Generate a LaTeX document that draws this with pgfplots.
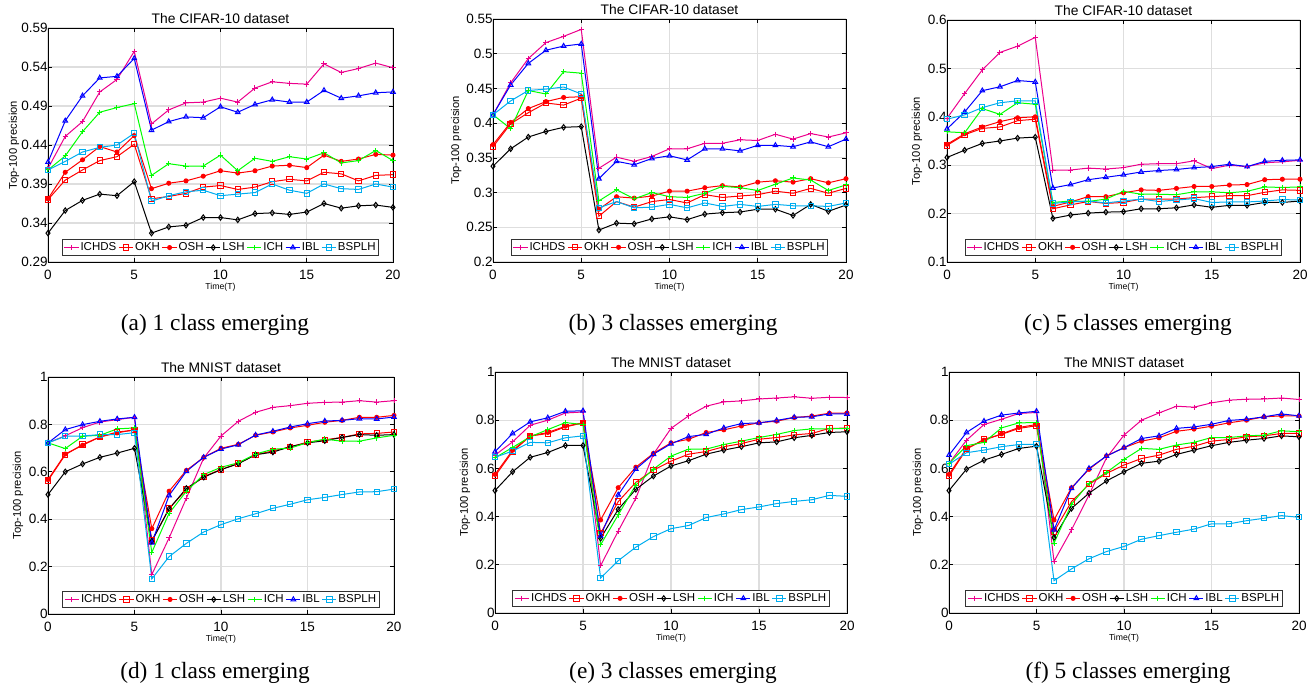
\documentclass[border=0pt]{standalone}
\usepackage{fontspec}
\setmainfont{Liberation Sans}
\newfontfamily\capfont{Liberation Serif}
\usepackage{pgfplots}
\usepackage{pgfplotstable}
\pgfplotsset{compat=1.18}

% columns: t ICHDS OKH OSH LSH ICH IBL BSPLH
\pgfplotstableread{
t ICHDS OKH OSH LSH ICH IBL BSPLH
0 0.410 0.370 0.371 0.327 0.408 0.418 0.408
1 0.451 0.395 0.405 0.356 0.426 0.471 0.419
2 0.470 0.408 0.421 0.369 0.457 0.503 0.431
3 0.508 0.420 0.438 0.377 0.482 0.526 0.437
4 0.524 0.425 0.431 0.375 0.488 0.528 0.440
5 0.560 0.441 0.452 0.393 0.493 0.551 0.455
6 0.467 0.371 0.384 0.327 0.401 0.459 0.368
7 0.485 0.374 0.391 0.335 0.416 0.470 0.375
8 0.494 0.378 0.394 0.337 0.413 0.476 0.380
9 0.495 0.386 0.400 0.347 0.413 0.475 0.382
10 0.500 0.388 0.407 0.347 0.427 0.489 0.375
11 0.495 0.383 0.404 0.344 0.407 0.482 0.377
12 0.513 0.386 0.407 0.352 0.423 0.492 0.379
13 0.521 0.393 0.413 0.353 0.419 0.498 0.390
14 0.519 0.396 0.414 0.351 0.425 0.495 0.382
15 0.518 0.394 0.411 0.354 0.422 0.495 0.378
16 0.544 0.405 0.427 0.365 0.430 0.510 0.390
17 0.533 0.403 0.419 0.359 0.417 0.500 0.384
18 0.538 0.394 0.422 0.362 0.420 0.503 0.383
19 0.545 0.401 0.428 0.363 0.433 0.507 0.390
20 0.539 0.402 0.427 0.360 0.420 0.508 0.386
}\dataA

\pgfplotstableread{
t ICHDS OKH OSH LSH ICH IBL BSPLH
0 0.412 0.366 0.369 0.338 0.412 0.412 0.412
1 0.458 0.399 0.401 0.363 0.392 0.455 0.432
2 0.493 0.415 0.421 0.380 0.447 0.486 0.447
3 0.516 0.429 0.431 0.388 0.442 0.505 0.449
4 0.525 0.426 0.437 0.394 0.474 0.511 0.452
5 0.535 0.436 0.438 0.395 0.472 0.514 0.442
6 0.335 0.266 0.276 0.246 0.288 0.320 0.278
7 0.351 0.287 0.294 0.256 0.304 0.345 0.287
8 0.345 0.279 0.292 0.255 0.291 0.340 0.278
9 0.352 0.287 0.295 0.262 0.300 0.349 0.279
10 0.363 0.290 0.302 0.265 0.294 0.353 0.283
11 0.363 0.285 0.302 0.261 0.293 0.347 0.278
12 0.371 0.297 0.307 0.269 0.299 0.363 0.285
13 0.371 0.293 0.310 0.271 0.309 0.363 0.280
14 0.376 0.295 0.308 0.272 0.307 0.360 0.283
15 0.375 0.297 0.315 0.276 0.303 0.368 0.280
16 0.384 0.302 0.317 0.276 0.312 0.368 0.283
17 0.377 0.299 0.315 0.267 0.321 0.366 0.281
18 0.385 0.306 0.320 0.283 0.318 0.373 0.281
19 0.380 0.299 0.314 0.273 0.303 0.366 0.280
20 0.386 0.306 0.320 0.282 0.311 0.377 0.285
}\dataB

\pgfplotstableread{
t ICHDS OKH OSH LSH ICH IBL BSPLH
0 0.397 0.341 0.343 0.316 0.369 0.375 0.395
1 0.448 0.363 0.365 0.331 0.367 0.410 0.404
2 0.497 0.376 0.379 0.345 0.417 0.454 0.419
3 0.533 0.379 0.390 0.350 0.405 0.462 0.429
4 0.546 0.392 0.398 0.356 0.429 0.475 0.433
5 0.564 0.395 0.400 0.358 0.426 0.472 0.433
6 0.290 0.210 0.215 0.190 0.223 0.253 0.221
7 0.290 0.218 0.224 0.197 0.226 0.260 0.224
8 0.294 0.225 0.235 0.201 0.225 0.270 0.226
9 0.292 0.221 0.235 0.203 0.230 0.275 0.222
10 0.295 0.223 0.243 0.204 0.246 0.280 0.226
11 0.302 0.230 0.249 0.210 0.240 0.286 0.230
12 0.303 0.230 0.248 0.210 0.240 0.289 0.225
13 0.303 0.230 0.252 0.212 0.239 0.291 0.228
14 0.309 0.233 0.256 0.218 0.245 0.295 0.231
15 0.293 0.235 0.256 0.213 0.245 0.297 0.223
16 0.300 0.237 0.259 0.217 0.243 0.302 0.224
17 0.297 0.237 0.260 0.217 0.246 0.297 0.224
18 0.305 0.244 0.270 0.223 0.255 0.308 0.226
19 0.307 0.249 0.271 0.223 0.254 0.310 0.229
20 0.310 0.248 0.271 0.226 0.255 0.311 0.228
}\dataC

\pgfplotstableread{
t ICHDS OKH OSH LSH ICH IBL BSPLH
0 0.722 0.563 0.567 0.504 0.722 0.722 0.722
1 0.752 0.672 0.675 0.600 0.698 0.778 0.750
2 0.786 0.715 0.712 0.633 0.750 0.799 0.751
3 0.810 0.747 0.747 0.661 0.754 0.813 0.757
4 0.820 0.768 0.764 0.679 0.781 0.823 0.757
5 0.830 0.775 0.778 0.699 0.785 0.830 0.765
6 0.166 0.310 0.360 0.307 0.260 0.300 0.148
7 0.321 0.445 0.518 0.444 0.425 0.500 0.242
8 0.489 0.525 0.606 0.530 0.518 0.602 0.298
9 0.658 0.580 0.661 0.577 0.588 0.661 0.346
10 0.751 0.610 0.699 0.609 0.619 0.696 0.377
11 0.813 0.635 0.716 0.634 0.638 0.714 0.402
12 0.851 0.672 0.754 0.672 0.675 0.755 0.423
13 0.872 0.688 0.768 0.683 0.695 0.771 0.446
14 0.879 0.705 0.785 0.706 0.700 0.789 0.463
15 0.889 0.725 0.796 0.722 0.723 0.803 0.482
16 0.893 0.735 0.809 0.731 0.738 0.814 0.492
17 0.894 0.745 0.817 0.745 0.729 0.817 0.504
18 0.900 0.760 0.830 0.757 0.729 0.824 0.515
19 0.894 0.762 0.830 0.754 0.743 0.823 0.516
20 0.900 0.768 0.838 0.757 0.754 0.831 0.527
}\dataD

\pgfplotstableread{
t ICHDS OKH OSH LSH ICH IBL BSPLH
0 0.655 0.568 0.575 0.508 0.644 0.669 0.646
1 0.710 0.670 0.675 0.586 0.687 0.745 0.672
2 0.779 0.734 0.735 0.646 0.731 0.793 0.708
3 0.800 0.745 0.749 0.666 0.761 0.810 0.706
4 0.830 0.772 0.775 0.695 0.790 0.837 0.727
5 0.834 0.789 0.789 0.695 0.782 0.839 0.735
6 0.196 0.331 0.386 0.310 0.283 0.320 0.145
7 0.340 0.462 0.520 0.430 0.407 0.490 0.217
8 0.476 0.542 0.605 0.513 0.531 0.597 0.273
9 0.659 0.593 0.662 0.568 0.597 0.659 0.317
10 0.766 0.630 0.706 0.610 0.651 0.702 0.350
11 0.818 0.659 0.721 0.632 0.680 0.732 0.363
12 0.858 0.670 0.749 0.659 0.680 0.741 0.396
13 0.876 0.690 0.760 0.676 0.699 0.768 0.411
14 0.880 0.703 0.776 0.690 0.713 0.786 0.429
15 0.888 0.721 0.789 0.706 0.728 0.789 0.440
16 0.892 0.728 0.796 0.710 0.741 0.799 0.454
17 0.897 0.739 0.811 0.727 0.757 0.812 0.463
18 0.891 0.745 0.817 0.737 0.764 0.814 0.470
19 0.895 0.766 0.829 0.749 0.764 0.826 0.488
20 0.894 0.767 0.830 0.752 0.766 0.826 0.484
}\dataE

\pgfplotstableread{
t ICHDS OKH OSH LSH ICH IBL BSPLH
0 0.620 0.568 0.575 0.508 0.620 0.655 0.617
1 0.717 0.680 0.683 0.597 0.694 0.749 0.665
2 0.782 0.721 0.717 0.634 0.708 0.796 0.676
3 0.804 0.741 0.743 0.658 0.768 0.821 0.690
4 0.828 0.766 0.770 0.683 0.789 0.830 0.699
5 0.832 0.777 0.782 0.692 0.790 0.837 0.700
6 0.214 0.338 0.386 0.313 0.290 0.345 0.134
7 0.345 0.462 0.520 0.434 0.451 0.517 0.183
8 0.490 0.534 0.596 0.497 0.538 0.600 0.225
9 0.644 0.579 0.652 0.548 0.583 0.651 0.255
10 0.738 0.614 0.686 0.586 0.637 0.686 0.276
11 0.800 0.641 0.713 0.621 0.683 0.724 0.306
12 0.830 0.655 0.727 0.630 0.679 0.735 0.321
13 0.858 0.679 0.754 0.658 0.697 0.766 0.335
14 0.854 0.692 0.763 0.676 0.708 0.772 0.348
15 0.872 0.713 0.775 0.694 0.728 0.783 0.370
16 0.883 0.720 0.789 0.708 0.728 0.799 0.370
17 0.887 0.731 0.800 0.717 0.735 0.804 0.383
18 0.888 0.735 0.814 0.724 0.738 0.814 0.393
19 0.892 0.745 0.818 0.735 0.756 0.826 0.404
20 0.886 0.745 0.818 0.731 0.752 0.818 0.397
}\dataF

\pgfplotsset{
  mat/.style={
    scale only axis,
    xmin=0, xmax=20, xtick={0,5,10,15,20},
    tick align=inside, major tick length=2.5pt,
    grid=major,
    major grid style={black!13, line width=0.7pt},
    axis line style={line width=0.5pt},
    tick style={black, line width=0.4pt},
    ticklabel style={font=\fontsize{8.1}{9.5}\selectfont},
    yticklabel style={inner sep=0.5pt, text depth=0pt, xshift=0.5pt},
    xticklabel style={inner sep=0.5pt, yshift=-4pt},
    /pgf/number format/assume math mode=true,
    title style={font=\fontsize{8.3}{9.5}\selectfont, yshift=-7pt},
    xlabel={Time(T)}, ylabel={Top-100 precision},
    xlabel style={font=\fontsize{5.2}{6}\selectfont, yshift=1.5pt},
    legend columns=-1,
    legend cell align=left,
    legend style={at={(0.5,0.025)}, anchor=south, draw=black!80, line width=0.6pt,
      font=\fontsize{6.9}{8}\selectfont, inner sep=0.8pt,
      nodes={inner sep=0.9pt},
      /tikz/every even column/.append style={column sep=0.3pt},
      /tikz/every odd column/.append style={column sep=0pt}},
    legend image code/.code={\draw[mark repeat=2,mark phase=2,#1]
      plot coordinates {(0cm,0cm) (0.15cm,0cm) (0.3cm,0cm)};},
    every axis plot/.append style={line width=0.6pt, mark size=1.6pt, mark options={solid}},
  },
  ylab/.style={every axis y label/.style={at={(rel axis cs:0,0.5)}, rotate=90,
      anchor=center, yshift=#1, font=\fontsize{6.7}{8}\selectfont}},
  ichds/.style={color=magenta, mark=+},
  okh/.style={color=red, mark=square},
  osh/.style={color=red, mark=*, mark size=1.2pt},
  lsh/.style={color=black, mark=diamond},
  ich/.style={color=green, mark=+},
  ibl/.style={color=blue, mark=triangle},
  bsplh/.style={color=cyan, mark=square},
}

\newcommand{\sevenplots}[1]{%
  \addplot[ichds] table[x=t, y=ICHDS] {#1};
  \addplot[okh] table[x=t, y=OKH] {#1};
  \addplot[osh] table[x=t, y=OSH] {#1};
  \addplot[lsh] table[x=t, y=LSH] {#1};
  \addplot[ich] table[x=t, y=ICH] {#1};
  \addplot[ibl] table[x=t, y=IBL] {#1};
  \addplot[bsplh] table[x=t, y=BSPLH] {#1};
  \legend{ICHDS, OKH, OSH, LSH, ICH, IBL, BSPLH}
}

\begin{document}
\begin{tikzpicture}
\useasboundingbox (0,0) rectangle (784.8pt,414pt);

% top row: CIFAR-10
\begin{axis}[mat, ylab=20.4pt, at={(28.8pt,256.8pt)}, anchor=south west,
  width=207pt, height=140.4pt,
  title={The CIFAR-10 dataset},
  ymin=0.29, ymax=0.59, ytick={0.29,0.34,0.39,0.44,0.49,0.54,0.59},
  yticklabel style={/pgf/number format/fixed, /pgf/number format/fixed zerofill,
    /pgf/number format/precision=2}]
  \sevenplots{\dataA}
\end{axis}

\begin{axis}[mat, ylab=22pt, at={(295.8pt,256.8pt)}, anchor=south west,
  width=211.8pt, height=145.8pt,
  title={The CIFAR-10 dataset},
  ymin=0.2, ymax=0.55, ytick={0.2,0.25,0.3,0.35,0.4,0.45,0.5,0.55},
  yticklabel style={/pgf/number format/fixed, /pgf/number format/precision=2}]
  \sevenplots{\dataB}
\end{axis}

\begin{axis}[mat, ylab=18pt, at={(568.2pt,256.8pt)}, anchor=south west,
  width=211.8pt, height=145.2pt,
  title={The CIFAR-10 dataset},
  ymin=0.1, ymax=0.6, ytick={0.1,0.2,0.3,0.4,0.5,0.6},
  yticklabel style={/pgf/number format/fixed, /pgf/number format/precision=1}]
  \sevenplots{\dataC}
\end{axis}

% bottom row: MNIST
\begin{axis}[mat, ylab=18pt, at={(28.8pt,45.6pt)}, anchor=south west,
  width=207.6pt, height=142.2pt,
  title={The MNIST dataset},
  ymin=0, ymax=1, ytick={0,0.2,0.4,0.6,0.8,1},
  yticklabel style={/pgf/number format/fixed, /pgf/number format/precision=1}]
  \sevenplots{\dataD}
\end{axis}

\begin{axis}[mat, ylab=18pt, at={(297pt,46.2pt)}, anchor=south west,
  width=211.2pt, height=144.6pt,
  title={The MNIST dataset},
  ymin=0, ymax=1, ytick={0,0.2,0.4,0.6,0.8,1},
  yticklabel style={/pgf/number format/fixed, /pgf/number format/precision=1}]
  \sevenplots{\dataE}
\end{axis}

\begin{axis}[mat, ylab=18.6pt, at={(569.4pt,46.2pt)}, anchor=south west,
  width=210pt, height=144.6pt,
  title={The MNIST dataset},
  ymin=0, ymax=1, ytick={0,0.2,0.4,0.6,0.8,1},
  yticklabel style={/pgf/number format/fixed, /pgf/number format/precision=1}]
  \sevenplots{\dataF}
\end{axis}

% sub-captions
\begin{scope}[every node/.style={font=\capfont\fontsize{14}{16}\selectfont, inner sep=0pt}]
  \node at (129pt,219pt) {(a) 1 class emerging};
  \node at (403.8pt,219pt) {(b) 3 classes emerging};
  \node at (676.8pt,219pt) {(c) 5 classes emerging};
  \node at (129pt,10.2pt) {(d) 1 class emerging};
  \node at (403.8pt,10.2pt) {(e) 3 classes emerging};
  \node at (676.8pt,10.2pt) {(f) 5 classes emerging};
\end{scope}
\end{tikzpicture}
\end{document}
